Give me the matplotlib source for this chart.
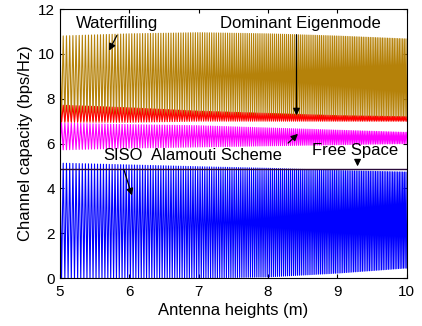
import numpy as np
import matplotlib
matplotlib.use("Agg")
import matplotlib.pyplot as plt

plt.rcParams['font.family'] = ['Liberation Sans', 'DejaVu Sans']

# Envelope of each capacity curve (peaks and troughs) at these antenna heights
env_heights = [5, 6, 7, 8, 9, 10]
waterfill_peak = [10.80, 10.90, 10.95, 10.90, 10.80, 10.67]
waterfill_trough = [7.00, 7.05, 7.10, 7.10, 7.15, 7.15]
eigen_peak = [7.72, 7.60, 7.45, 7.35, 7.25, 7.20]
eigen_trough = [6.95, 6.95, 7.00, 7.00, 7.00, 7.00]
alamouti_peak = [6.92, 6.85, 6.80, 6.70, 6.60, 6.50]
alamouti_trough = [5.72, 5.80, 5.85, 5.90, 5.95, 6.00]
siso_peak = [5.13, 5.05, 4.97, 4.90, 4.80, 4.73]
siso_trough = [0.00, 0.00, 0.00, 0.05, 0.22, 0.45]
free_space = 4.85

x_ticks = [5, 6, 7, 8, 9, 10]
y_ticks = [0, 2, 4, 6, 8, 10, 12]

# Two-ray fading: path phase grows with the square of the antenna height,
# so the turning points (half cycles) get denser towards 10 m.
half_cycles_per_m2 = 4.2
n_half = int(half_cycles_per_m2 * (10 ** 2 - 5 ** 2))
h_turn = np.sqrt(5 ** 2 + np.arange(n_half + 1) / half_cycles_per_m2)


def fading_curve(peak, trough, start_high=True):
    up = np.interp(h_turn, env_heights, peak)
    lo = np.interp(h_turn, env_heights, trough)
    high = (np.arange(len(h_turn)) % 2 == 0) == start_high
    return np.where(high, up, lo)


fig = plt.figure(figsize=(4.22, 3.26), dpi=100)
ax = fig.add_axes([0.142, 0.147, 0.822, 0.825])

lw = 0.8
ax.plot(h_turn, fading_curve(waterfill_peak, waterfill_trough), color='#B5820A', lw=lw)
ax.plot(h_turn, fading_curve(eigen_peak, eigen_trough), color='#FF0000', lw=lw)
ax.plot(h_turn, fading_curve(alamouti_peak, alamouti_trough, False), color='#FF00FF', lw=lw)
ax.plot(h_turn, fading_curve(siso_peak, siso_trough), color='#0000FF', lw=lw)
ax.plot([5, 10], [free_space, free_space], color='#2A0A3A', lw=1.0)

ax.set_xlim(5, 10)
ax.set_ylim(0, 12)
ax.set_xticks(x_ticks)
ax.set_yticks(y_ticks)
ax.tick_params(direction='in', top=True, right=True, labelsize=11, length=3)
ax.tick_params(axis='x', pad=5)
ax.set_xlabel('Antenna heights (m)', fontsize=12, labelpad=3)
ax.set_ylabel('Channel capacity (bps/Hz)', fontsize=12, labelpad=4)

arrow = dict(arrowstyle='-|>', color='black', lw=0.9, mutation_scale=10)
fs = 12
ax.text(5.82, 11.35, 'Waterfilling', ha='center', va='center', fontsize=fs)
ax.annotate('', xy=(5.69, 10.04), xytext=(5.84, 10.94), arrowprops=arrow)
ax.text(8.47, 11.35, 'Dominant Eigenmode', ha='center', va='center', fontsize=fs)
ax.annotate('', xy=(8.41, 7.14), xytext=(8.41, 10.98), arrowprops=arrow)
ax.text(7.26, 5.48, 'Alamouti Scheme', ha='center', va='center', fontsize=fs)
ax.annotate('', xy=(8.46, 6.52), xytext=(8.26, 5.94), arrowprops=arrow)
ax.text(5.91, 5.48, 'SISO', ha='center', va='center', fontsize=fs)
ax.annotate('', xy=(6.05, 3.57), xytext=(5.91, 4.96), arrowprops=arrow)
ax.text(9.26, 5.68, 'Free Space', ha='center', va='center', fontsize=fs)
ax.annotate('', xy=(9.29, 4.86), xytext=(9.29, 5.36), arrowprops=arrow)

fig.savefig('out.png', dpi=100)
